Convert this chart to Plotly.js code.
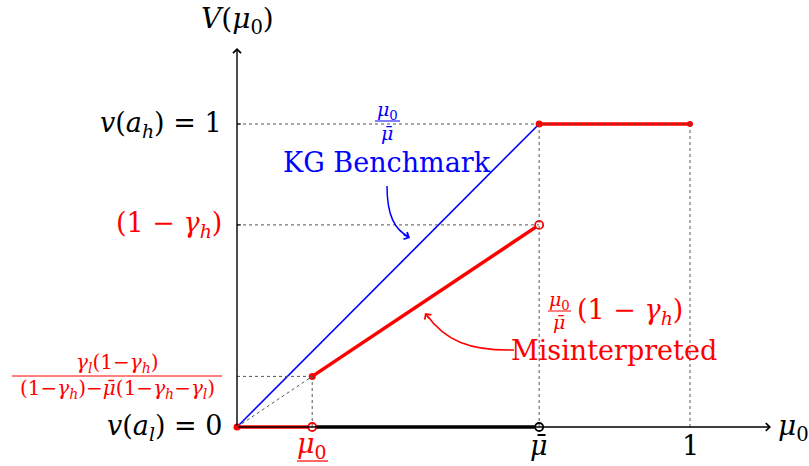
<!DOCTYPE html>
<html>
<head>
<meta charset="utf-8">
<script src="https://cdn.plot.ly/plotly-3.0.1.min.js"></script>
<style>
  html, body { margin: 0; padding: 0; background: #fff; }
  #chart { width: 809px; height: 466px; }
</style>
</head>
<body>
<div id="chart"></div>
<script>
// Key values of the belief axis (mu_0) and the value axis V(mu_0)
const muLow = 0.166;        // underlined mu_0 threshold
const muBar = 0.667;        // mu-bar
const oneMinusGh = 0.667;   // (1 - gamma_h)
const threshold = 0.167;    // gamma_l(1-gamma_h) / ((1-gamma_h) - mubar(1-gamma_h-gamma_l))

// KG benchmark: mu_0 / mu-bar up to mu-bar
const benchX = [0, 0.667];
const benchY = [0, 1];

// Misinterpreted value, three pieces
const misLowX = [0, 0.166];
const misLowY = [0, 0];
const misMidX = [0.166, 0.667];
const misMidY = [0.167, 0.667];
const misHighX = [0.667, 1];
const misHighY = [1, 1];

// Black segment on the axis between the thresholds
const axisSegX = [0.166, 0.667];
const axisSegY = [0, 0];

// mu with a bar over it (combining macron)
const MUBAR = '<i>μ\u0304</i>';

// Tick labels
const xTickVals = [muLow, muBar, 1];
const xTickText = ['<i>μ</i><sub>0</sub>', MUBAR, '1'];
const xTickColor = ['#ff0000', '#000000', '#000000'];
const yTickVals = [1, oneMinusGh, 0];
const yTickText = ['<i>v</i>(<i>a</i><sub><i>h</i></sub>) = 1',
                   '(1 − <i>γ</i><sub><i>h</i></sub>)',
                   '<i>v</i>(<i>a</i><sub><i>l</i></sub>) = 0'];
const yTickColor = ['#000000', '#ff0000', '#000000'];

const RED = '#ff0000', BLUE = '#0000ff', BLACK = '#000000';
const FONT = 'DejaVu Serif';
const BIG = 27, SMALL = 19;

// Frame: pixel -> data helpers for decorations
const W = 809, H = 466, X0 = 237, Y0 = 427, SX = 453, SY = 303;
const dx = px => (px - X0) / SX;
const dy = py => (Y0 - py) / SY;

const traces = [];
function seg(x, y, color, width) {
  traces.push({x, y, mode: 'lines', line: {color, width}, hoverinfo: 'skip', showlegend: false});
}
function dot(x, y, color, size, open) {
  traces.push({x: [x], y: [y], mode: 'markers', hoverinfo: 'skip', showlegend: false,
    marker: {size, color: open ? '#ffffff' : color, line: {color, width: open ? 1.8 : 0}}});
}

seg(benchX, benchY, BLUE, 1.6);
seg(axisSegX, axisSegY, BLACK, 3.5);
seg(misLowX, misLowY, RED, 3.5);
seg(misMidX, misMidY, RED, 3.5);
seg(misHighX, misHighY, RED, 3.5);

dot(misLowX[0], misLowY[0], RED, 7, false);
dot(misLowX[1], misLowY[1], RED, 8, true);
dot(misMidX[0], misMidY[0], RED, 7, false);
dot(misMidX[1], misMidY[1], RED, 8, true);
dot(axisSegX[1], axisSegY[1], BLACK, 8, true);
dot(misHighX[0], misHighY[0], RED, 7, false);
dot(misHighX[1], misHighY[1], RED, 6, false);

const dotted = {color: '#555', width: 1, dash: 'dot'};
const shapes = [
  // guide lines
  {type: 'line', x0: 0, y0: 1, x1: 1, y1: 1, line: dotted},
  {type: 'line', x0: 0, y0: oneMinusGh, x1: muBar, y1: oneMinusGh, line: dotted},
  {type: 'line', x0: 0, y0: threshold, x1: muLow, y1: threshold, line: dotted},
  {type: 'line', x0: muLow, y0: 0, x1: muLow, y1: threshold, line: dotted},
  {type: 'line', x0: 0, y0: 0, x1: muLow, y1: threshold, line: dotted},
  {type: 'line', x0: muBar, y0: 0, x1: muBar, y1: 1, line: dotted},
  {type: 'line', x0: 1, y0: 0, x1: 1, y1: 1, line: dotted},
  // small ticks on the value axis
  {type: 'line', x0: 0, y0: 1, x1: dx(X0 + 4), y1: 1, line: {color: BLACK, width: 1}},
  {type: 'line', x0: 0, y0: oneMinusGh, x1: dx(X0 + 4), y1: oneMinusGh, line: {color: BLACK, width: 1}},
  // underline of the mu_0 threshold label
  {type: 'line', x0: dx(297), y0: dy(461), x1: dx(328), y1: dy(461), line: {color: RED, width: 1.2}},
  // fraction bars
  {type: 'line', x0: dx(12), y0: dy(376), x1: dx(222), y1: dy(376), line: {color: RED, width: 1}},
  {type: 'line', x0: dx(375), y0: dy(121), x1: dx(400), y1: dy(121), line: {color: BLUE, width: 1}},
  {type: 'line', x0: dx(548), y0: dy(311), x1: dx(571), y1: dy(311), line: {color: RED, width: 1}},
  // curved pointers
  {type: 'path', line: {color: BLUE, width: 1.5},
   path: `M ${dx(387)},${dy(186)} C ${dx(387)},${dy(216)} ${dx(395)},${dy(230)} ${dx(409)},${dy(237)}`},
  {type: 'path', line: {color: RED, width: 1.5},
   path: `M ${dx(514)},${dy(350)} C ${dx(470)},${dy(351)} ${dx(445)},${dy(341)} ${dx(426)},${dy(314)}`}
];

const ann = [];
function txt(x, y, text, color, size, xanchor) {
  ann.push({x, y, xref: 'x', yref: 'y', text, showarrow: false,
    xanchor: xanchor || 'center', yanchor: 'middle',
    font: {family: FONT, size, color}});
}

// Axes with arrow tips
ann.push({x: dx(771), y: 0, ax: 0, ay: 0, axref: 'x', ayref: 'y', xref: 'x', yref: 'y',
  showarrow: true, arrowhead: 4, arrowsize: 1.1, arrowwidth: 1.4, arrowcolor: BLACK, text: ''});
ann.push({x: 0, y: dy(48), ax: 0, ay: 0, axref: 'x', ayref: 'y', xref: 'x', yref: 'y',
  showarrow: true, arrowhead: 4, arrowsize: 1.1, arrowwidth: 1.4, arrowcolor: BLACK, text: ''});
// Heads of the curved pointers
ann.push({x: dx(410), y: dy(238), ax: -8, ay: -4, xref: 'x', yref: 'y',
  showarrow: true, arrowhead: 4, arrowsize: 1.2, arrowwidth: 1.3, arrowcolor: BLUE, text: ''});
ann.push({x: dx(425), y: dy(313), ax: 5, ay: 7, xref: 'x', yref: 'y',
  showarrow: true, arrowhead: 4, arrowsize: 1.2, arrowwidth: 1.3, arrowcolor: RED, text: ''});

// Axis titles
txt(0, dy(20), '<i>V</i>(<i>μ</i><sub>0</sub>)', BLACK, BIG + 1, 'center');
txt(dx(776), 0, '<i>μ</i><sub>0</sub>', BLACK, BIG + 1, 'left');

// Tick labels
xTickVals.forEach((v, i) => txt(v, dy(445), xTickText[i], xTickColor[i], BIG, 'center'));
yTickVals.forEach((v, i) => txt(dx(224), v, yTickText[i], yTickColor[i], BIG, 'right'));

// Threshold fraction label
txt(dx(117), dy(363), '<i>γ</i><sub><i>l</i></sub>(1−<i>γ</i><sub><i>h</i></sub>)', RED, 20, 'center');
txt(dx(117), dy(389), '(1−<i>γ</i><sub><i>h</i></sub>)−' + MUBAR + '(1−<i>γ</i><sub><i>h</i></sub>−<i>γ</i><sub><i>l</i></sub>)', RED, 20, 'center');

// Benchmark label
txt(dx(387), dy(110), '<i>μ</i><sub>0</sub>', BLUE, SMALL, 'center');
txt(dx(387), dy(133), MUBAR, BLUE, SMALL, 'center');
txt(dx(387), dy(162), 'KG Benchmark', BLUE, BIG, 'center');

// Misinterpreted label
txt(dx(559), dy(300), '<i>μ</i><sub>0</sub>', RED, SMALL, 'center');
txt(dx(559), dy(322), MUBAR, RED, SMALL, 'center');
txt(dx(575), dy(311), '(1 − <i>γ</i><sub><i>h</i></sub>)', RED, BIG, 'left');
txt(dx(614), dy(350), 'Misinterpreted', RED, BIG, 'center');

const layout = {
  width: W, height: H,
  margin: {l: 0, r: 0, t: 0, b: 0},
  paper_bgcolor: '#ffffff', plot_bgcolor: '#ffffff',
  xaxis: {range: [dx(0), dx(W)], visible: false, fixedrange: true},
  yaxis: {range: [dy(H), dy(0)], visible: false, fixedrange: true},
  shapes, annotations: ann, showlegend: false
};

Plotly.newPlot('chart', traces, layout, {displayModeBar: false});
</script>
</body>
</html>
